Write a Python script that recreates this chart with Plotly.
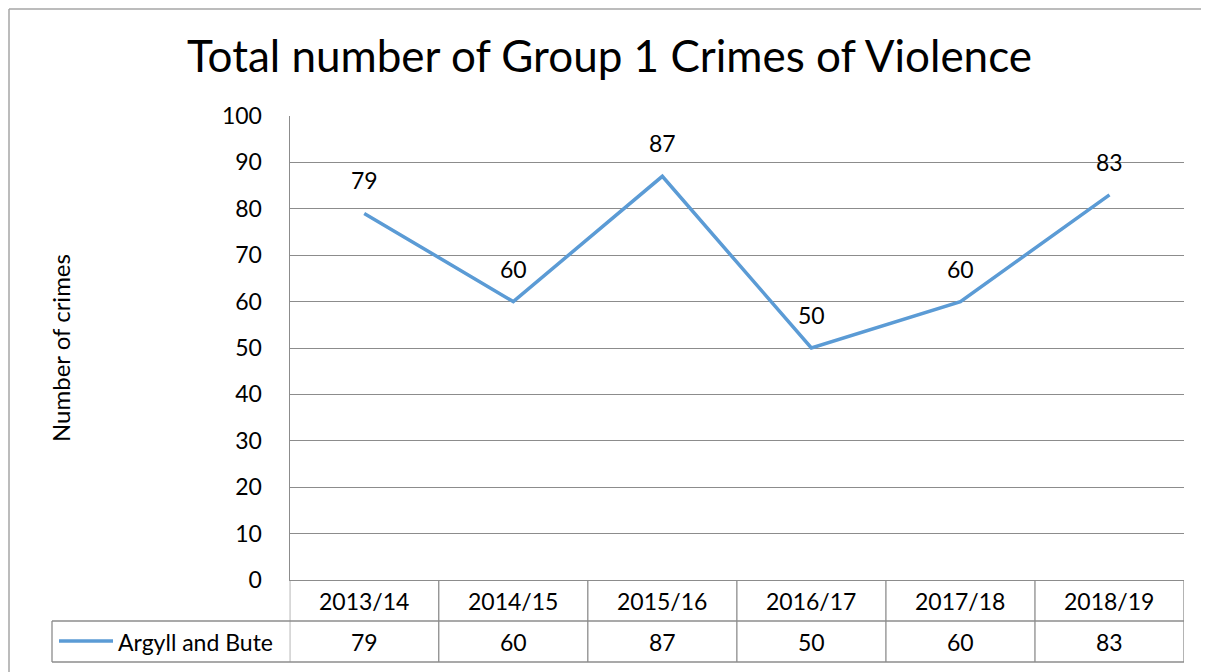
import plotly.graph_objects as go

years = ["2013/14", "2014/15", "2015/16", "2016/17", "2017/18", "2018/19"]
crimes = [79, 60, 87, 50, 60, 83]
series_name = "Argyll and Bute"
title_text = "Total number of Group 1 Crimes of Violence"
y_title = "Number of crimes"

OFF = 8  # page body margin
W, H = 1209 - OFF, 672 - OFF
FONT = "Lato, 'Open Sans', sans-serif"
LINE_COLOR = "#5B9BD5"
GRID = "#8c8c8c"
TXT = "#000000"

def px(x):
    return (x - OFF) / W

def py(y):
    return 1 - (y - OFF) / H

x_dom = [px(289.7), px(1184)]
y_dom = [py(580), py(116)]
row_mid = py(621)
row_bot = py(662)

fig = go.Figure()
fig.add_trace(go.Scatter(
    x=list(range(len(years))), y=crimes, mode="lines",
    line=dict(color=LINE_COLOR, width=3.5), name=series_name,
    showlegend=False, hoverinfo="skip"))

annotations = []
# data labels
for i, v in enumerate(crimes):
    annotations.append(dict(x=i, y=v, xref="x", yref="y", text=str(v),
                            showarrow=False, yshift=33,
                            font=dict(family=FONT, size=23, color=TXT)))
# table header (categories) and values
for i, (yr, v) in enumerate(zip(years, crimes)):
    annotations.append(dict(x=i, y=py(601), xref="x", yref="paper", text=yr,
                            showarrow=False, yanchor="middle",
                            font=dict(family=FONT, size=23, color=TXT)))
    annotations.append(dict(x=i, y=py(641.5), xref="x", yref="paper", text=str(v),
                            showarrow=False, yanchor="middle",
                            font=dict(family=FONT, size=23, color=TXT)))
# legend key text
annotations.append(dict(x=px(116), y=py(641.5), xref="paper", yref="paper",
                        text=series_name, showarrow=False, xanchor="left",
                        yanchor="middle", font=dict(family=FONT, size=23, color=TXT)))
# title
annotations.append(dict(x=px(609), y=py(55), xref="paper", yref="paper",
                        text=title_text, showarrow=False, xanchor="center",
                        yanchor="middle", font=dict(family=FONT, size=44, color=TXT)))
# y-axis title
annotations.append(dict(x=px(60), y=py(348), xref="paper", yref="paper",
                        text=y_title, showarrow=False, textangle=-90,
                        xanchor="center", yanchor="middle",
                        font=dict(family=FONT, size=24, color=TXT)))

shapes = []
line_style = dict(color=GRID, width=1.3)
# table verticals at category boundaries
for i in range(len(years) + 1):
    shapes.append(dict(type="line", xref="x", yref="paper",
                       x0=i - 0.5, x1=i - 0.5, y0=y_dom[0], y1=row_bot, line=line_style))
# table horizontals
shapes.append(dict(type="line", xref="paper", yref="paper",
                   x0=px(52), x1=x_dom[1], y0=row_mid, y1=row_mid, line=line_style))
shapes.append(dict(type="line", xref="paper", yref="paper",
                   x0=px(52), x1=x_dom[1], y0=row_bot, y1=row_bot, line=line_style))
# legend cell left edge
shapes.append(dict(type="line", xref="paper", yref="paper",
                   x0=px(52), x1=px(52), y0=row_mid, y1=row_bot, line=line_style))
# legend key line
shapes.append(dict(type="line", xref="paper", yref="paper",
                   x0=px(59), x1=px(113), y0=py(641), y1=py(641),
                   line=dict(color=LINE_COLOR, width=3.5)))
# outer chart border (top and left), at the edge of the drawable area
border = dict(color="#a6a6a6", width=1.5)
ex = 1.0 / W
ey = 1 - 1.0 / H
shapes.append(dict(type="line", xref="paper", yref="paper",
                   x0=ex, x1=1.0, y0=ey, y1=ey, line=border))
shapes.append(dict(type="line", xref="paper", yref="paper",
                   x0=ex, x1=ex, y0=0.0, y1=ey, line=border))

fig.update_layout(
    width=W, height=H,
    margin=dict(l=0, r=0, t=0, b=0, autoexpand=False),
    paper_bgcolor="white", plot_bgcolor="white",
    showlegend=False,
    xaxis=dict(domain=x_dom, range=[-0.5, len(years) - 0.5],
               showticklabels=False, showgrid=False, zeroline=False,
               showline=True, linecolor=GRID, linewidth=1.3, ticks="",
               automargin=False),
    yaxis=dict(domain=y_dom, range=[0, 100], dtick=10, tick0=0,
               showgrid=True, gridcolor=GRID, gridwidth=1.3,
               zeroline=False, showline=True, linecolor=GRID, linewidth=1.3,
               ticks="", ticklabelstandoff=22, automargin=False,
               tickfont=dict(family=FONT, size=23, color=TXT)),
    annotations=annotations,
    shapes=shapes,
)

fig.write_html("out.html")
